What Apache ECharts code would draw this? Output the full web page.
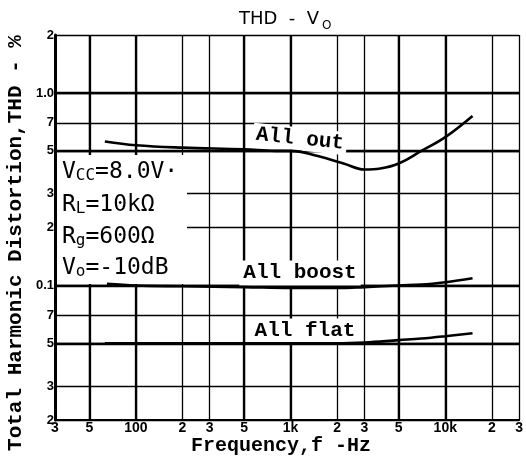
<!DOCTYPE html>
<html><head><meta charset="utf-8">
<script src="https://cdn.jsdelivr.net/npm/echarts@6/dist/echarts.min.js"></script>
<style>html,body{margin:0;padding:0;background:#fff}#c{width:526px;height:466px}</style>
</head><body><div id="c"></div>
<script>
// Tick values and labels
const xTicks = [30,50,100,200,300,500,1000,2000,3000,5000,10000,20000,30000];
const xTickLabels = ['3','5','100','2','3','5','1k','2','3','5','10k','2','3'];
const xBoldTicks = [50,100,500,1000,5000,10000];
const yTicks = [0.02,0.03,0.05,0.07,0.1,0.2,0.3,0.5,0.7,1.0,2];
const yTickLabels = ['2','3','5','7','0.1','2','3','5','7','1.0','2'];
const yBoldTicks = [0.05,0.1,0.5,1.0];

// Series data (frequency Hz, THD %)
const freqOut = [63,100,200,500,800,1000,1500,2200,3000,3800,5000,7000,10000,15000];
const thdOut  = [0.56,0.535,0.52,0.51,0.50,0.50,0.47,0.43,0.40,0.405,0.43,0.50,0.59,0.76];
const freqBoost = [65,100,200,500,1000,2000,3000,5000,7000,10000,15000];
const thdBoost  = [0.102,0.1,0.099,0.098,0.097,0.097,0.098,0.1,0.101,0.104,0.109];
const freqFlat = [63,100,200,500,1000,2000,3000,5000,7000,10000,15000];
const thdFlat  = [0.05,0.05,0.05,0.05,0.05,0.05,0.0505,0.052,0.053,0.0545,0.0565];

const L = Math.log10;
const fmt = (ticks, labels) => v => {
  const i = ticks.findIndex(t => Math.abs(L(t) - v) < 1e-6);
  return i >= 0 ? labels[i] : '';
};
const pts = (xs, ys) => xs.map((x, i) => [L(x), L(ys[i])]);

const chart = echarts.init(document.getElementById('c'), null, {renderer: 'canvas'});
const lineStyle = {color: '#000', width: 2.6};

chart.setOption({
  animation: false,
  backgroundColor: '#fff',
  grid: {left: 55, right: 5, top: 35, bottom: 46},
  xAxis: [
    {type: 'value', min: L(30), max: L(30000), position: 'bottom',
     axisLine: {show: true, onZero: false, lineStyle: {color: '#000', width: 2}},
     axisTick: {show: false, customValues: xTicks.map(L)},
     axisLabel: {customValues: xTicks.map(L), formatter: fmt(xTicks, xTickLabels),
       color: '#000', fontSize: 14, fontWeight: 'bold', fontFamily: 'Liberation Sans', margin: 1},
     splitLine: {show: true, lineStyle: {color: '#000', width: 1.3}}},
    {type: 'value', min: L(30), max: L(30000), position: 'top',
     axisLine: {show: false}, axisTick: {show: false, customValues: xBoldTicks.map(L)},
     axisLabel: {show: false, customValues: xBoldTicks.map(L)},
     splitLine: {show: true, lineStyle: {color: '#000', width: 2.3}}}
  ],
  yAxis: [
    {type: 'value', min: L(0.02), max: L(2), position: 'left',
     axisLine: {show: true, onZero: false, lineStyle: {color: '#000', width: 3}},
     axisTick: {show: false, customValues: yTicks.map(L)},
     axisLabel: {customValues: yTicks.map(L), formatter: fmt(yTicks, yTickLabels),
       color: '#000', fontSize: 13, fontWeight: 'bold', fontFamily: 'Liberation Sans', margin: 1},
     splitLine: {show: true, lineStyle: {color: '#000', width: 1.3}}},
    {type: 'value', min: L(0.02), max: L(2), position: 'right',
     axisLine: {show: false}, axisTick: {show: false, customValues: yBoldTicks.map(L)},
     axisLabel: {show: false, customValues: yBoldTicks.map(L)},
     splitLine: {show: true, lineStyle: {color: '#000', width: 2.3}}}
  ],
  series: [
    {name: 'All out', type: 'line', data: pts(freqOut, thdOut), smooth: 0.4, showSymbol: false, lineStyle, z: 5},
    {name: 'All boost', type: 'line', data: pts(freqBoost, thdBoost), smooth: 0.4, showSymbol: false, lineStyle, z: 5},
    {name: 'All flat', type: 'line', data: pts(freqFlat, thdFlat), smooth: 0.4, showSymbol: false, lineStyle, z: 5}
  ],
  graphic: [
    {type: 'text', x: 239, y: 19, z: 10, style: {text: 'THD  -  V', font: '18px "DejaVu Sans"', fill: '#000', align: 'left', verticalAlign: 'middle'}},
    {type: 'text', x: 322, y: 26, z: 10, style: {text: 'O', font: '12px "DejaVu Sans"', fill: '#000', align: 'left', verticalAlign: 'middle'}},
    {type: 'text', x: 16, y: 243, rotation: Math.PI / 2, z: 10,
     style: {text: 'Total Harmonic Distortion,THD - %', font: 'bold 21px "Liberation Mono"', fill: '#000', align: 'center', verticalAlign: 'middle'}},
    {type: 'text', x: 281, y: 446, z: 10,
     style: {text: 'Frequency,f -Hz', font: 'bold 20px "Liberation Mono"', fill: '#000', align: 'center', verticalAlign: 'middle'}},
    {type: 'rect', shape: {x: 57, y: 155, width: 130, height: 129}, z: 1, style: {fill: '#fff'}},
    ...[
      ['{b|V}{s|CC}{b|=8.0V·}', 170],
      ['{b|R}{s|L}{b|=10kΩ}', 203],
      ['{b|R}{s|g}{b|=600Ω}', 235],
      ['{b|V}{s|o}{b|=-10dB}', 266]
    ].map(([t, y]) => ({type: 'text', x: 62, y: y, z: 10,
      style: {text: t, fill: '#000', align: 'left', verticalAlign: 'middle',
        rich: {b: {fontSize: 23, fontFamily: 'DejaVu Sans Mono', verticalAlign: 'bottom', lineHeight: 28},
               s: {fontSize: 16, fontFamily: 'DejaVu Sans Mono', verticalAlign: 'bottom', lineHeight: 28}}}})),
    {type: 'text', x: 300, y: 139, rotation: -0.1, z: 2,
     style: {text: 'All out', font: 'bold 21px "Liberation Mono"', fill: '#000', align: 'center', verticalAlign: 'middle', backgroundColor: '#fff', padding: [2, 3, 0, 3]}},
    {type: 'text', x: 300, y: 273, z: 2,
     style: {text: 'All boost', font: 'bold 21px "Liberation Mono"', fill: '#000', align: 'center', verticalAlign: 'middle', backgroundColor: '#fff', padding: [3, 4, 1, 4]}},
    {type: 'text', x: 305, y: 331, z: 2,
     style: {text: 'All flat', font: 'bold 21px "Liberation Mono"', fill: '#000', align: 'center', verticalAlign: 'middle', backgroundColor: '#fff', padding: [3, 4, 1, 4]}}
  ]
});
</script>
</body></html>
